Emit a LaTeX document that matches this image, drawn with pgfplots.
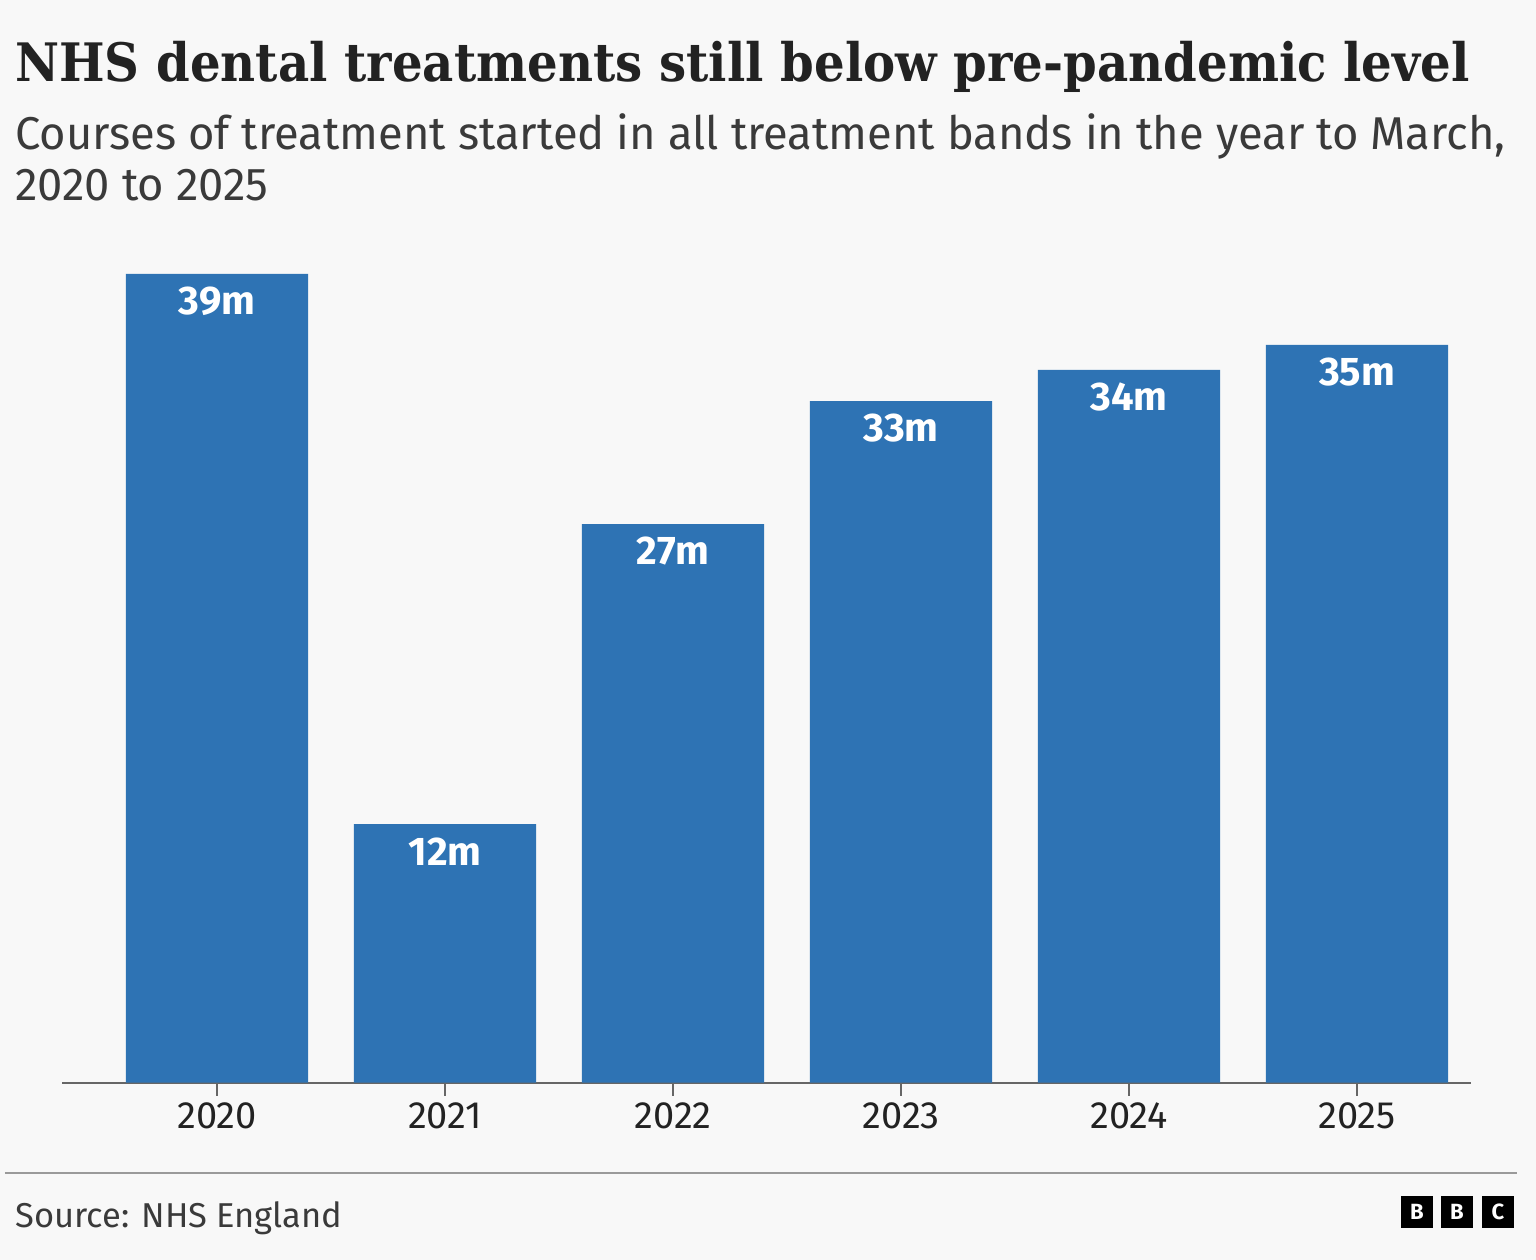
\documentclass[border=0pt]{standalone}
\usepackage{fontspec}
\setmainfont{Fira Sans}
\newfontfamily\titlefont{DejaVu Serif}[FakeStretch=0.91]
\newfontfamily\subfont{Fira Sans}[FakeStretch=0.985]
\usepackage{pgfplots}
\pgfplotsset{compat=1.18}
\usetikzlibrary{backgrounds}

\definecolor{bg}{HTML}{F8F8F8}
\definecolor{barblue}{HTML}{2E73B4}
\definecolor{titlecol}{HTML}{222222}
\definecolor{subcol}{HTML}{3A3A3A}
\definecolor{axiscol}{HTML}{666666}
\definecolor{rulecol}{HTML}{9A9A9A}

\begin{document}
\begin{tikzpicture}[x=1pt,y=1pt]
	\begin{axis}[
		scale only axis,
		width=1409pt, height=875.4pt,
		xmin=-0.68, xmax=5.5,
		ymin=0, ymax=42,
		axis y line=none,
		axis x line*=bottom,
		x axis line style={draw=axiscol, line width=2pt, -},
		xtick={0,1,2,3,4,5},
		xticklabels={2020,2021,2022,2023,2024,2025},
		tick align=outside,
		major tick length=13pt,
		xtick style={draw=axiscol, line width=1.5pt},
		xticklabel style={font=\fontsize{38}{40}\selectfont, text=titlecol, yshift=-3pt},
		ybar,
		bar width=0.8,
		clip=false,
		point meta=explicit symbolic,
		nodes near coords,
		every node near coord/.append style={anchor=north, inner sep=0pt,
			yshift=-13pt, text=white, font=\bfseries\fontsize{40}{42}\selectfont},
		]
		% courses of treatment, millions
		\addplot[fill=barblue, draw=none] coordinates {
			(0,38.8) [39m]
			(1,12.4) [12m]
			(2,26.8) [27m]
			(3,32.7) [33m]
			(4,34.2) [34m]
			(5,35.4) [35m]
		};
		\coordinate (O) at (rel axis cs:0,0);
	\end{axis}
	
	% everything else in page pixels, 1px = 1pt, axis corner at (62,177.3)
	\begin{scope}[shift={(O)}, xshift=-62pt, yshift=-177.3pt]
		\begin{scope}[on background layer]
			\fill[bg] (0,0) rectangle (1536,1260);
		\end{scope}
		
		% title and subtitle
		\node[anchor=base west, inner sep=0, text=titlecol,
		font=\titlefont\bfseries\fontsize{53}{60}\selectfont] at (15,1178)
		{NHS dental treatments still below pre-pandemic level};
		\node[anchor=base west, inner sep=0, text=subcol,
		font=\subfont\fontsize{46}{51}\selectfont] at (15,1110)
		{Courses of treatment started in all treatment bands in the year to March,};
		\node[anchor=base west, inner sep=0, text=subcol,
		font=\subfont\fontsize{46}{51}\selectfont] at (15,1059)
		{2020 to 2025};
		
		% footer
		\draw[rulecol, line width=2pt] (5,87) -- (1517,87);
		\node[anchor=base west, inner sep=0, text=subcol,
		font=\fontsize{34.5}{40}\selectfont] at (15,33) {Source: NHS England};
		\foreach \x/\l in {1401/B,1441/B,1482/C} {
			\fill[black] (\x,32) rectangle ++(32,32);
			\node[text=white, inner sep=0, font=\bfseries\fontsize{22}{22}\selectfont]
			at (\x+16,48) {\l};
		}
	\end{scope}
\end{tikzpicture}
\end{document}
